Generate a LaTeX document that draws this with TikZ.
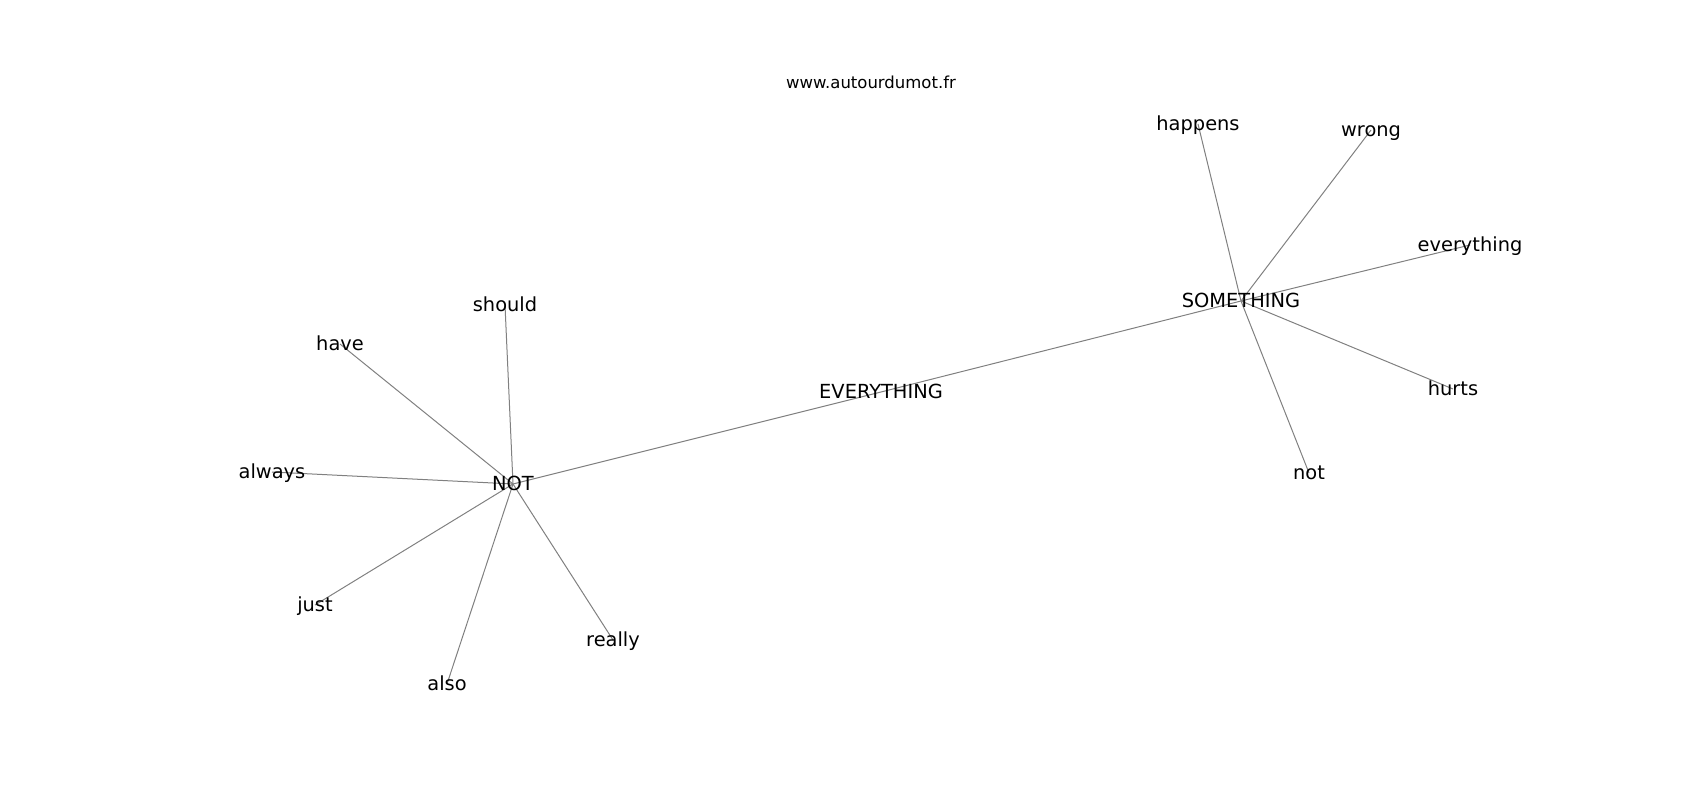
\documentclass[tikz,border=0pt]{standalone}
\usepackage{fontspec}
\setmainfont{DejaVu Sans}
\begin{document}
\begin{tikzpicture}[x=1pt,y=-1pt,
  word/.style={inner sep=0pt, text height=0.76em, text depth=0.24em, yshift=-3.5pt, font=\fontsize{19.4}{23}\selectfont, text=black},
  title/.style={inner sep=0pt, font=\fontsize{16.5}{20}\selectfont, text=black},
  edge/.style={draw=gray, line width=1pt}]
\useasboundingbox (0,0) rectangle (1700,800);
% node positions
\coordinate (pNOT) at (513,484);
\coordinate (pEVE) at (881,392);
\coordinate (pSOM) at (1241,301);
\coordinate (pshould) at (505,305);
\coordinate (phave) at (340,344);
\coordinate (palways) at (272,472);
\coordinate (pjust) at (315,605);
\coordinate (palso) at (447,684);
\coordinate (preally) at (613,640);
\coordinate (phappens) at (1198,124);
\coordinate (pwrong) at (1371,130);
\coordinate (peverything) at (1470,245);
\coordinate (phurts) at (1453,389);
\coordinate (pnot) at (1309,473);
% edges
\foreach \a/\b in {NOT/EVE, EVE/SOM, NOT/should, NOT/have, NOT/always, NOT/just, NOT/also, NOT/really,
  SOM/happens, SOM/wrong, SOM/everything, SOM/hurts, SOM/not}
  \draw[edge] (p\a) -- (p\b);
% labels
\node[title] (title) at (871,82) {www.autourdumot.fr};
\node[word] (NOT) at (pNOT) {NOT};
\node[word] (EVE) at (pEVE) {EVERYTHING};
\node[word] (SOM) at (pSOM) {SOMETHING};
\node[word] (should) at (pshould) {should};
\node[word] (have) at (phave) {have};
\node[word] (always) at (palways) {always};
\node[word] (just) at (pjust) {just};
\node[word] (also) at (palso) {also};
\node[word] (really) at (preally) {really};
\node[word] (happens) at (phappens) {happens};
\node[word] (wrong) at (pwrong) {wrong};
\node[word] (everything) at (peverything) {everything};
\node[word] (hurts) at (phurts) {hurts};
\node[word] (not) at (pnot) {not};
\end{tikzpicture}
\end{document}
